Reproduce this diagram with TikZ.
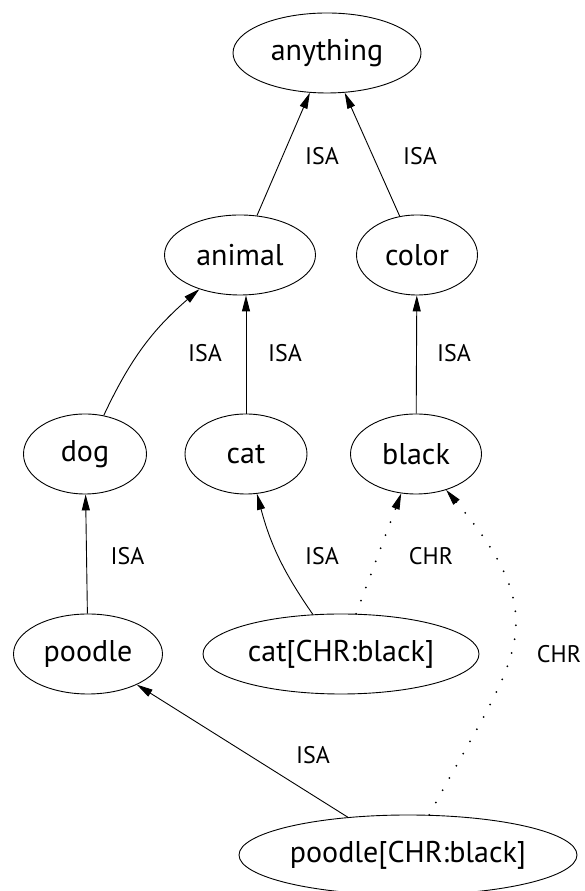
\documentclass[tikz,border=0pt]{standalone}
\usepackage{fontspec}
\setmainfont{PT Sans}
\usetikzlibrary{shapes.geometric,arrows.meta}

\tikzset{
  concept/.style={draw, ellipse, line width=0.9pt, inner sep=0pt, minimum height=80pt,
    font=\fontsize{30}{34}\selectfont},
  isa/.style={line width=0.9pt, -{Triangle[length=16pt,width=8pt]}},
  chr/.style={isa, line width=2pt, line cap=round, dash pattern=on 0pt off 14pt,
    -{Triangle[length=16pt,width=8pt,line width=0.9pt]}},
  lbl/.style={font=\fontsize{24}{28}\selectfont}
}

\begin{document}
\begin{tikzpicture}[x=1pt, y=1pt]
\useasboundingbox (0,0) rectangle (584,891);

% Concepts
\node[concept, minimum width=188pt] (anything) at (327,838) {anything};
\node[concept, minimum width=151pt] (animal) at (240,636) {animal};
\node[concept, minimum width=121pt] (color) at (417,636) {color};
\node[concept, minimum width=123pt] (dog) at (85,437) {dog};
\node[concept, minimum width=122pt] (cat) at (246,437) {cat};
\node[concept, minimum width=131pt] (black) at (416,437) {black};
\node[concept, minimum width=149pt] (poodle) at (88,237) {poodle};
\node[concept, minimum width=276pt] (catChr) at (341,237) {cat[CHR:black]};
\node[concept, minimum width=338pt] (poodleChr) at (408,36) {poodle[CHR:black]};

% ISA links
\draw[isa] (animal) -- (anything);
\draw[isa] (color) -- (anything);
\draw[isa] (dog) to[bend left=12] (animal);
\draw[isa] (cat) -- (cat |- animal.south);
\draw[isa] (black) -- (color);
\draw[isa] (poodle) -- (dog);
\draw[isa] (catChr) to[bend left=10] (cat);
\draw[isa] (poodleChr) -- (poodle);

% CHR links
\draw[chr] (catChr) -- (black);
\draw[chr] (poodleChr) to[out=62, in=-50, looseness=1.4] (black);

% Link labels
\node[lbl] (isaAnimal) at (322,735) {ISA};
\node[lbl] (isaColor) at (420,735) {ISA};
\node[lbl] (isaDog) at (205,538) {ISA};
\node[lbl] (isaCat) at (285,538) {ISA};
\node[lbl] (isaBlack) at (454,538) {ISA};
\node[lbl] (isaPoodle) at (127.5,335) {ISA};
\node[lbl] (isaCatChr) at (322,335) {ISA};
\node[lbl] (chrCat) at (431,335) {CHR};
\node[lbl] (chrPoodle) at (559,237) {CHR};
\node[lbl] (isaPoodleChr) at (313,136) {ISA};

\end{tikzpicture}
\end{document}
